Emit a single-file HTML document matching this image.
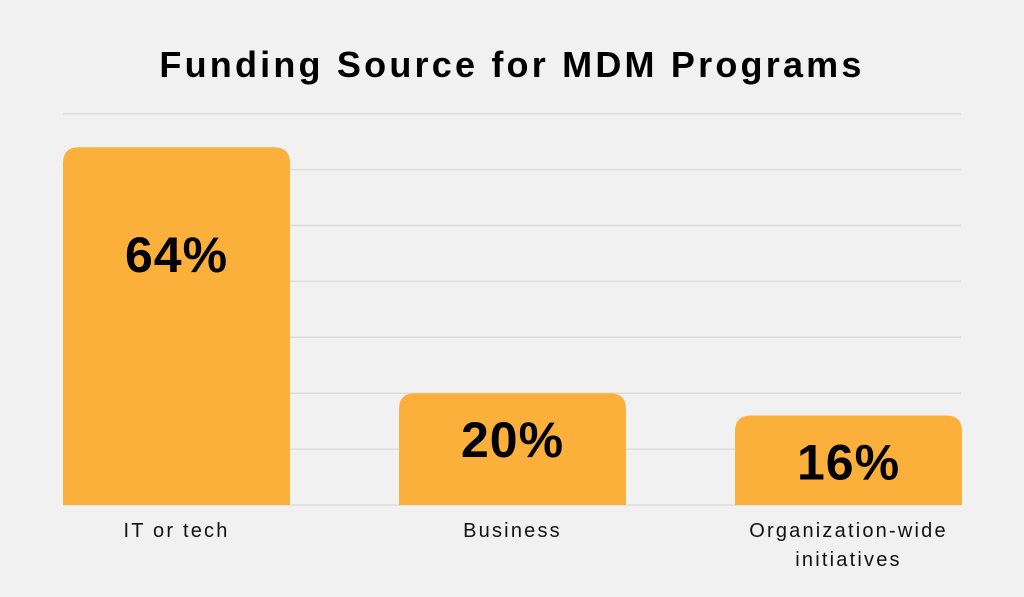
<!DOCTYPE html>
<html><head><meta charset="utf-8"><style>
html,body{margin:0;padding:0;background:#f1f1f1;}
svg{display:block;font-family:"Liberation Sans",sans-serif;}
</style></head><body>
<svg id="chart" width="1024" height="597" viewBox="0 0 1024 597">
<rect x="0" y="0" width="1024" height="597" fill="#f1f1f1"/>
<text x="512" y="77" text-anchor="middle" font-size="36" font-weight="bold" fill="#000" letter-spacing="3.2">Funding Source for MDM Programs</text>
<g id="grid"></g><g id="bars"></g><g id="labels"></g>
</svg>
<script>
const categories = [["IT or tech"], ["Business"], ["Organization-wide", "initiatives"]];
const values = [64, 20, 16];
const valueLabels = ["64%", "20%", "16%"];
const gridTicks = [10, 20, 30, 40, 50, 60, 70];

const ns = "http://www.w3.org/2000/svg";
const baseY = 505, pxPer = 5.59, left = 63, right = 961, barW = 227, step = 336;
const y = v => baseY - v * pxPer;
const x = i => left + i * step;
function mk(tag, attrs, parent){const e=document.createElementNS(ns,tag);for(const k in attrs)e.setAttribute(k,attrs[k]);parent.appendChild(e);return e;}
const grid=document.getElementById('grid'), bars=document.getElementById('bars'), labels=document.getElementById('labels');
gridTicks.forEach(t=>{
  const l=mk('line',{x1:left,x2:right,y1:y(t),y2:y(t),stroke:'#dcdcdc','stroke-width':1.5},grid);
  
  
});
const base=mk('line',{x1:left,x2:right,y1:baseY,y2:baseY,stroke:'#dcdcdc','stroke-width':1.5},grid);


values.forEach((v,i)=>{
  const top=y(v), h=baseY-top, r=16;
  const bx=x(i);
  const d=`M${bx},${baseY} L${bx},${top+r} Q${bx},${top} ${bx+r},${top} L${bx+barW-r},${top} Q${bx+barW},${top} ${bx+barW},${top+r} L${bx+barW},${baseY} Z`;
  const p=mk('path',{d:d,fill:'#fbb03b'},bars);
  
  
  const ly = top + (h>200 ? 108 : 47) + 17;
  const t=mk('text',{x:bx+barW/2,y:ly,'text-anchor':'middle','font-size':50,'font-weight':'bold',fill:'#000','letter-spacing':1},labels);
  t.textContent=valueLabels[i];
  
  
  const c=mk('text',{x:bx+barW/2,y:537,'text-anchor':'middle','font-size':20,fill:'#111','letter-spacing':2.2},labels);
  
  
  categories[i].forEach((line,j)=>{const s=mk('tspan',{x:bx+barW/2,dy:j?29:0},c);s.textContent=line;});
});
</script>
</body></html>
